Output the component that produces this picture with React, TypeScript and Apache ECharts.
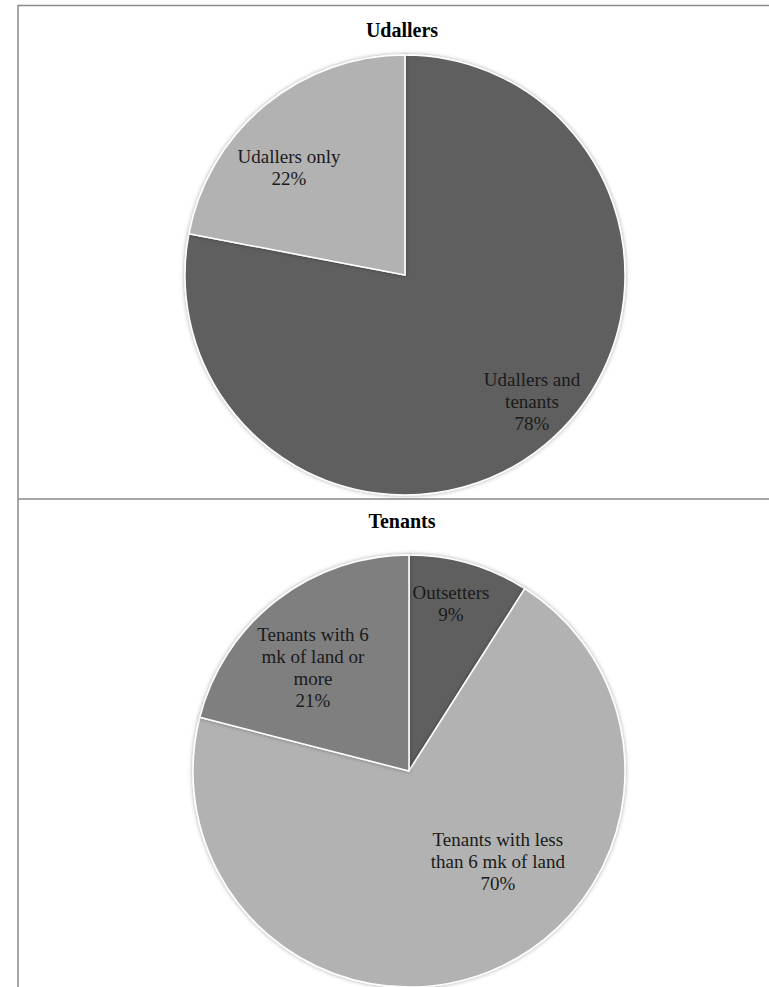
import React, { useEffect, useRef } from "react";
import * as echarts from "echarts";

const udallerCategories = ["Udallers and\ntenants", "Udallers only"];
const udallerValues = [78, 22];
const tenantCategories = [
  "Outsetters",
  "Tenants with less\nthan 6 mk of land",
  "Tenants with 6\nmk of land or\nmore",
];
const tenantValues = [9, 70, 21];
const titles = ["Udallers", "Tenants"];

const udallerColors = ["#5f5f5f", "#b2b2b2"];
const tenantColors = ["#5f5f5f", "#b2b2b2", "#7f7f7f"];
const udallerLabelShift = [
  [55, 39],
  [-44, -20],
];
const tenantLabelShift = [
  [11, -61],
  [48, -13],
  [-28, -16],
];

const FONT = "'Liberation Serif', 'Times New Roman', serif";

export default function App() {
  const ref = useRef<HTMLDivElement>(null);
  useEffect(() => {
    document.body.style.margin = "0";
    const chart = echarts.init(ref.current!, null, { renderer: "svg" });
    const makePie = (
      cats: string[],
      vals: number[],
      colors: string[],
      shifts: number[][],
      center: number[],
      radius: number
    ) => ({
      type: "pie",
      center,
      radius,
      startAngle: 90,
      clockwise: true,
      percentPrecision: 0,
      silent: true,
      data: cats.map((c, i) => ({
        name: c,
        value: vals[i],
        itemStyle: { color: colors[i] },
      })),
      itemStyle: {
        borderColor: "#ffffff",
        borderWidth: 1.5,
        shadowBlur: 4,
        shadowColor: "rgba(0,0,0,0.35)",
      },
      label: {
        show: true,
        position: "inside",
        formatter: "{b}\n{d}%",
        fontFamily: FONT,
        fontSize: 19,
        lineHeight: 22,
        color: "#1a1a1a",
        align: "center",
      },
      labelLine: { show: false },
      labelLayout: (p: any) => ({
        dx: shifts[p.dataIndex][0],
        dy: shifts[p.dataIndex][1],
      }),
    });
    chart.setOption({
      animation: false,
      backgroundColor: "#ffffff",
      title: [
        {
          text: titles[0],
          left: 402,
          top: 20,
          textAlign: "center",
          padding: 0,
          textStyle: { fontFamily: FONT, fontSize: 20, fontWeight: "bold", color: "#000" },
        },
        {
          text: titles[1],
          left: 402,
          top: 511,
          textAlign: "center",
          padding: 0,
          textStyle: { fontFamily: FONT, fontSize: 20, fontWeight: "bold", color: "#000" },
        },
      ],
      graphic: [
        { type: "line", shape: { x1: 18, y1: 5.5, x2: 769, y2: 5.5 }, style: { stroke: "#8a8a8a", lineWidth: 1.5 } },
        { type: "line", shape: { x1: 18, y1: 5, x2: 18, y2: 987 }, style: { stroke: "#8a8a8a", lineWidth: 1.5 } },
        { type: "line", shape: { x1: 18, y1: 499, x2: 769, y2: 499 }, style: { stroke: "#8a8a8a", lineWidth: 1.5 } },
      ],
      series: [
        makePie(udallerCategories, udallerValues, udallerColors, udallerLabelShift, [405, 275], 220),
        makePie(tenantCategories, tenantValues, tenantColors, tenantLabelShift, [409, 771], 216),
      ],
    });
    return () => chart.dispose();
  }, []);
  return <div ref={ref} style={{ width: 769, height: 987 }} />;
}
